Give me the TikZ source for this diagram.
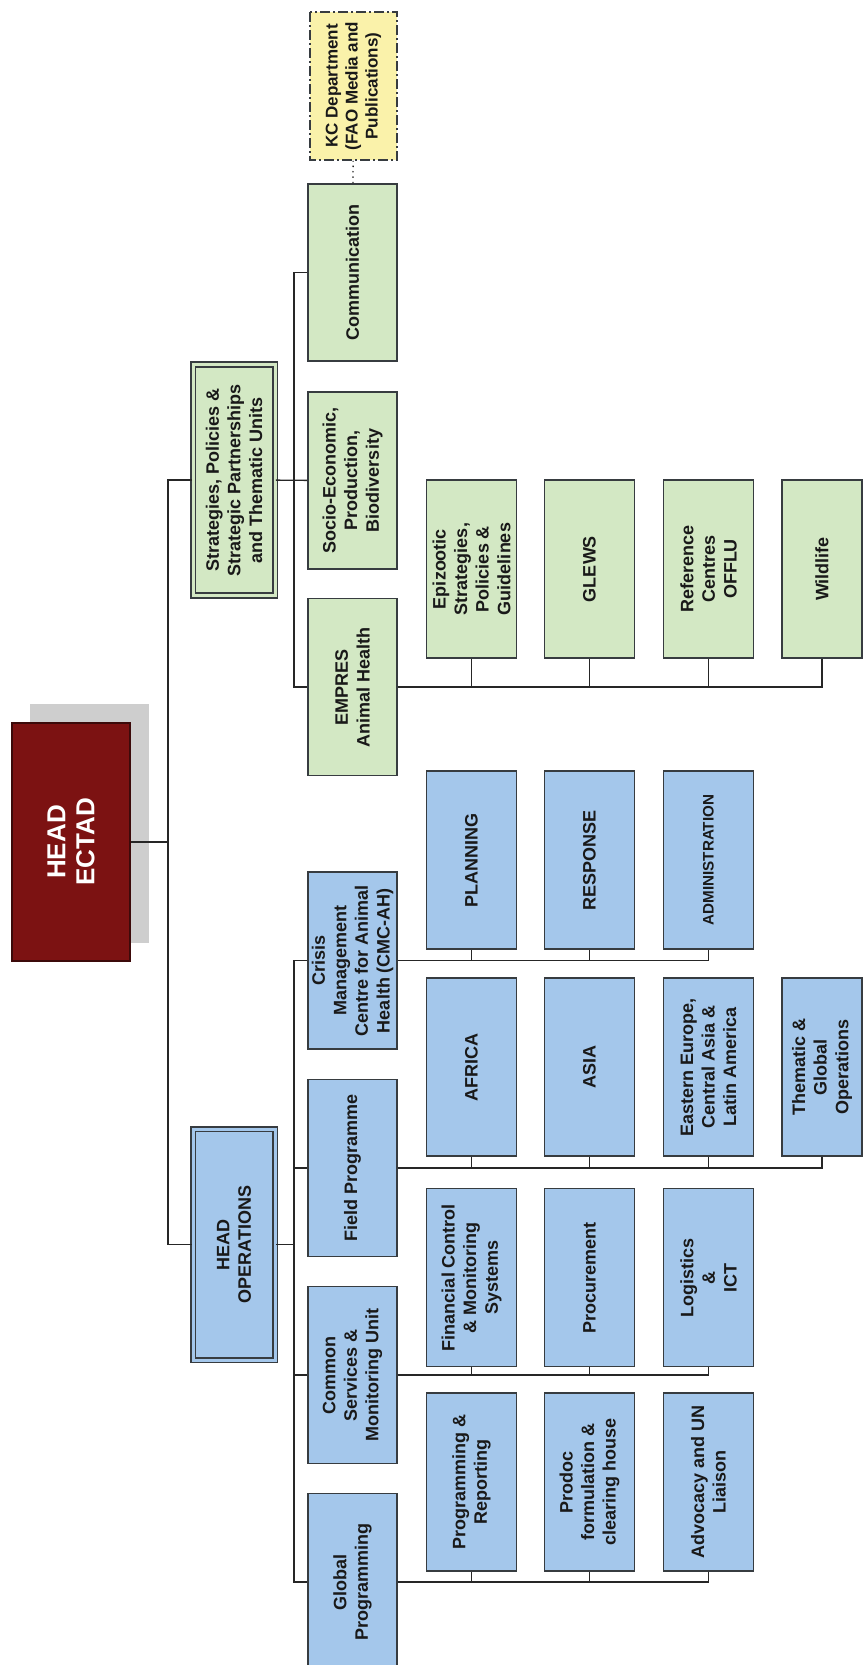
\documentclass[tikz,border=0pt]{standalone}
\usepackage{fontspec}
\setmainfont{Liberation Sans}

\definecolor{opsblue}{RGB}{164,199,235}
\definecolor{unitgreen}{RGB}{211,232,196}
\definecolor{ectadred}{RGB}{124,18,18}
\definecolor{ectadrim}{RGB}{60,10,10}
\definecolor{ectadshade}{RGB}{206,206,206}
\definecolor{kcyellow}{RGB}{250,242,170}
\definecolor{boxline}{RGB}{55,60,64}

\begin{document}
\begin{tikzpicture}[x=0.5pt, y=-0.5pt,
		box/.style={draw=boxline, line width=0.8pt, rotate=90, align=center, inner sep=1pt,
			text=black!90, font=\fontsize{9}{10.8}\selectfont\bfseries},
		unit/.style={box, minimum width=88.5pt, minimum height=44.5pt},
		sub/.style={box, minimum width=89pt, minimum height=45pt},
		head/.style={box, minimum width=115.5pt, minimum height=41pt, double distance=1.5pt},
		opsbox/.style={fill=opsblue},
		greenbox/.style={fill=unitgreen},
		link/.style={draw=black!85, line width=0.7pt}]
	\useasboundingbox (0, 0) rectangle (864, 1665);

	\fill[ectadshade] (30, 704) rectangle (149, 943);
	\node[box, fill=ectadred, draw=ectadrim, line width=1.4pt, text=white,
		font=\fontsize{13}{14.5}\selectfont\bfseries,
		minimum width=119pt, minimum height=59pt] (ectad) at (71, 842) {HEAD\\ECTAD};

	\node[head, greenbox, double=unitgreen] (strat) at (234, 480)
		{Strategies, Policies \&\\Strategic Partnerships\\and Thematic Units};
	\node[head, opsbox, double=opsblue] (ops) at (234, 1244.5) {HEAD\\OPERATIONS};

	\node[unit, greenbox] (comm) at (352.5, 272.5) {Communication};
	\node[unit, greenbox] (soc) at (352.5, 480.5) {Socio-Economic,\\Production,\\Biodiversity};
	\node[unit, greenbox] (empres) at (352.5, 687) {EMPRES\\Animal Health};
	\node[unit, opsbox] (cmc) at (352.5, 960.5) {Crisis\\Management\\Centre for Animal\\Health (CMC-AH)};
	\node[unit, opsbox] (field) at (352.5, 1168) {Field Programme};
	\node[unit, opsbox] (common) at (352.5, 1375) {Common\\Services \&\\Monitoring Unit};
	\node[unit, opsbox] (glob) at (352.5, 1582) {Global\\Programming};

	\node[box, fill=kcyellow, dash pattern=on 5pt off 1.5pt on 1pt off 1.5pt,
		minimum width=74pt, minimum height=43.5pt,
		font=\fontsize{8.5}{10}\selectfont\bfseries] (kc) at (353.5, 86)
		{KC Department\\(FAO Media and\\Publications)};

	\node[sub, greenbox] (epi) at (471.5, 569) {Epizootic\\Strategies,\\Policies \&\\Guidelines};
	\node[sub, greenbox] (glews) at (589.5, 569) {GLEWS};
	\node[sub, greenbox] (offlu) at (708.5, 569) {Reference\\Centres\\OFFLU};
	\node[sub, greenbox, minimum height=40pt] (wild) at (822, 569) {Wildlife};

	\node[sub, opsbox] (plan) at (471.5, 860) {PLANNING};
	\node[sub, opsbox] (resp) at (589.5, 860) {RESPONSE};
	\node[sub, opsbox, font=\fontsize{7.6}{9}\selectfont\bfseries] (admin) at (708.5, 860) {ADMINISTRATION};

	\node[sub, opsbox] (africa) at (471.5, 1067) {AFRICA};
	\node[sub, opsbox] (asia) at (589.5, 1067) {ASIA};
	\node[sub, opsbox] (eeur) at (708.5, 1067) {Eastern Europe,\\Central Asia \&\\Latin America};
	\node[sub, opsbox, minimum height=40pt] (thema) at (822, 1067) {Thematic \&\\Global\\Operations};

	\node[sub, opsbox] (fin) at (471.5, 1277.5) {Financial Control\\\& Monitoring\\Systems};
	\node[sub, opsbox] (proc) at (589.5, 1277.5) {Procurement};
	\node[sub, opsbox] (logi) at (708.5, 1277.5) {Logistics\\\&\\ICT};

	\node[sub, opsbox] (progr) at (471.5, 1482) {Programming \&\\Reporting};
	\node[sub, opsbox] (prodoc) at (589.5, 1482) {Prodoc\\formulation \&\\clearing house};
	\node[sub, opsbox] (advo) at (708.5, 1482) {Advocacy and UN\\Liaison};

	\coordinate (trunk) at (168, 842);
	\coordinate (stratbus) at (294, 480);
	\coordinate (opsbus) at (294, 1244.5);

	\draw[link] (ectad) -- (trunk);
	\draw[link] (strat) -| (trunk) |- (ops);
	\draw[link] (strat) -- (soc);
	\draw[link] (comm) -| (stratbus) |- (empres);
	\draw[link] (ops) -- (opsbus);
	\draw[link] (cmc) -| (opsbus) |- (glob);
	\foreach \n in {field, common} \draw[link] (\n) -- (\n -| opsbus);
	\draw[link, dotted] (comm) -- (kc);

	\foreach \n in {epi, glews, offlu, wild} \draw[link] (empres) -| (\n);
	\foreach \n in {plan, resp, admin} \draw[link] (cmc) -| (\n);
	\foreach \n in {africa, asia, eeur, thema} \draw[link] (field) -| (\n);
	\foreach \n in {fin, proc, logi} \draw[link] (common) -| (\n);
	\foreach \n in {progr, prodoc, advo} \draw[link] (glob) -| (\n);
\end{tikzpicture}
\end{document}
